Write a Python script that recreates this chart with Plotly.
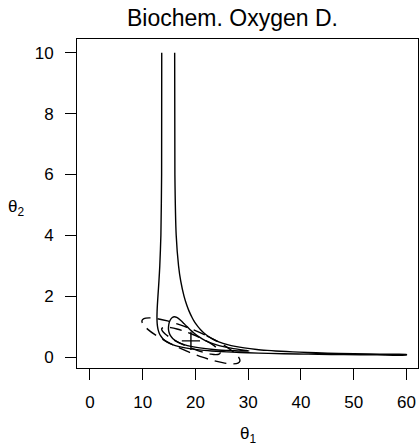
import plotly.graph_objects as go

# Parameter estimates (theta1, theta2)
est_theta1 = [19.1426]
est_theta2 = [0.5311]

# Likelihood contour (95%) - traced: left branch down, along bottom, back along upper branch
c95_theta1 = [13.607, 13.584, 13.447, 13.239, 13.077, 12.887, 12.779, 12.724, 12.702, 12.713,
              12.746, 12.811, 12.916, 13.101, 13.383, 13.829, 14.548, 15.772, 16.719, 18.045,
              19.993, 21.643, 23.046, 24.793, 27.013, 29.916, 33.858, 39.491, 43.302, 48.131,
              54.429, 60.0,
              60.0, 56.947, 53.037, 47.133, 42.890, 39.695, 37.207, 35.215, 33.584, 31.629,
              29.241, 27.533, 26.249, 24.433, 23.190, 22.271, 21.552, 20.977, 20.474, 20.052,
              19.684, 19.360, 18.810, 18.363, 17.831, 17.204, 16.793, 16.351, 16.101, 16.060]
c95_theta2 = [10.0, 6.0, 4.0, 3.0, 2.5, 2.0, 1.7, 1.5, 1.3, 1.2,
              1.1, 1.0, 0.9, 0.8, 0.7, 0.6, 0.5, 0.4, 0.35, 0.3,
              0.25, 0.22, 0.2, 0.18, 0.16, 0.14, 0.12, 0.1, 0.09, 0.08,
              0.07, 0.0635,
              0.0837, 0.09, 0.1, 0.12, 0.14, 0.16, 0.18, 0.2, 0.22, 0.25,
              0.3, 0.35, 0.4, 0.5, 0.6, 0.7, 0.8, 0.9, 1.0, 1.1,
              1.2, 1.3, 1.5, 1.7, 2.0, 2.5, 3.0, 4.0, 6.0, 10.0]

# Likelihood contour (80%) - closed loop
c80_theta1 = [16.0, 16.456, 17.227, 17.819, 18.390, 19.004, 19.637, 20.384, 21.284, 22.434,
              24.026, 25.099, 26.461, 28.223, 29.464, 29.863, 30.148, 29.56, 28.114, 26.806,
              25.763, 23.399, 20.824, 19.153, 17.996, 16.547, 15.735, 15.270, 15.016, 14.888,
              14.896, 14.980, 15.171, 15.606, 16.0]
c80_theta2 = [1.322, 1.3, 1.2, 1.1, 1.0, 0.9, 0.8, 0.7, 0.6, 0.5,
              0.4, 0.35, 0.3, 0.25, 0.22, 0.21, 0.2, 0.195, 0.2, 0.21,
              0.22, 0.25, 0.3, 0.35, 0.4, 0.5, 0.6, 0.7, 0.8, 0.9,
              1.0, 1.1, 1.2, 1.3, 1.322]

# Linear-approximation ellipse (95%)
e95_theta1 = [24.000, 21.782, 19.383, 16.968, 14.702, 12.738, 11.210, 10.223, 9.844, 10.099,
              10.970, 12.397, 14.285, 16.504, 18.902, 21.317, 23.584, 25.548, 27.075, 28.062,
              28.441, 28.187, 27.316, 25.888, 24.000]
e95_theta2 = [0.531, 0.727, 0.910, 1.066, 1.187, 1.262, 1.288, 1.262, 1.187, 1.066,
              0.910, 0.727, 0.531, 0.335, 0.153, -0.004, -0.124, -0.200, -0.226, -0.200,
              -0.124, -0.004, 0.153, 0.335, 0.531]

# Linear-approximation ellipse (80%)
e80_theta1 = [22.041, 20.717, 19.286, 17.845, 16.493, 15.321, 14.410, 13.821, 13.595, 13.747,
              14.266, 15.118, 16.245, 17.568, 18.999, 20.440, 21.792, 22.964, 23.875, 24.464,
              24.690, 24.538, 24.019, 23.167, 22.041]
e80_theta2 = [0.531, 0.648, 0.757, 0.850, 0.922, 0.967, 0.983, 0.967, 0.922, 0.850,
              0.757, 0.648, 0.531, 0.414, 0.305, 0.212, 0.140, 0.095, 0.079, 0.095,
              0.140, 0.212, 0.305, 0.414, 0.531]

x_ticks = [0, 10, 20, 30, 40, 50, 60]
y_ticks = [0, 2, 4, 6, 8, 10]

FONT = "Liberation Sans, Arial, sans-serif"
solid = dict(color="black", width=1.4, shape="spline", smoothing=0.6)
dashed = dict(color="black", width=1.4, shape="spline", smoothing=0.8, dash="12px,7px")

fig = go.Figure()
fig.add_trace(go.Scatter(x=c95_theta1, y=c95_theta2, mode="lines", line=solid, hoverinfo="skip"))
fig.add_trace(go.Scatter(x=c80_theta1, y=c80_theta2, mode="lines", line=solid, hoverinfo="skip"))
fig.add_trace(go.Scatter(x=e95_theta1, y=e95_theta2, mode="lines", line=dashed, hoverinfo="skip"))
fig.add_trace(go.Scatter(x=e80_theta1, y=e80_theta2, mode="lines", line=dashed, hoverinfo="skip"))
fig.add_trace(go.Scatter(x=est_theta1, y=est_theta2, mode="markers",
                         marker=dict(symbol="cross-thin", size=13, line=dict(color="black", width=1.4)),
                         hoverinfo="skip"))

axis_common = dict(showgrid=False, zeroline=False, showline=True, mirror=True,
                   linecolor="black", linewidth=1, ticks="outside", ticklen=11,
                   tickcolor="black", tickwidth=1,
                   tickfont=dict(family=FONT, size=17, color="black"))

fig.update_layout(
    width=420, height=445,
    margin=dict(l=77, r=1.5, t=39, b=76.7, pad=0),
    paper_bgcolor="white", plot_bgcolor="white",
    showlegend=False,
    xaxis=dict(range=[-2.46, 62.2], tickvals=x_ticks, ticklabelstandoff=8, **axis_common),
    yaxis=dict(range=[-0.36, 10.45], tickvals=y_ticks, ticklabelstandoff=8, **axis_common),
    annotations=[
        dict(text="Biochem. Oxygen D.", xref="paper", yref="paper", x=0.4553, y=1.0647,
             xanchor="center", yanchor="middle", showarrow=False,
             font=dict(family=FONT, size=23, color="black")),
        dict(text="θ<sub>1</sub>", xref="paper", yref="paper", x=0.5007, y=-0.2026,
             xanchor="center", yanchor="middle", showarrow=False,
             font=dict(family=FONT, size=17, color="black")),
        dict(text="θ<sub>2</sub>", xref="paper", yref="paper", x=-0.1786, y=0.4868,
             xanchor="center", yanchor="middle", showarrow=False,
             font=dict(family=FONT, size=17, color="black")),
    ],
)

fig.write_html("out.html", config={"displayModeBar": False},
               post_script="document.body.style.margin='0';")
